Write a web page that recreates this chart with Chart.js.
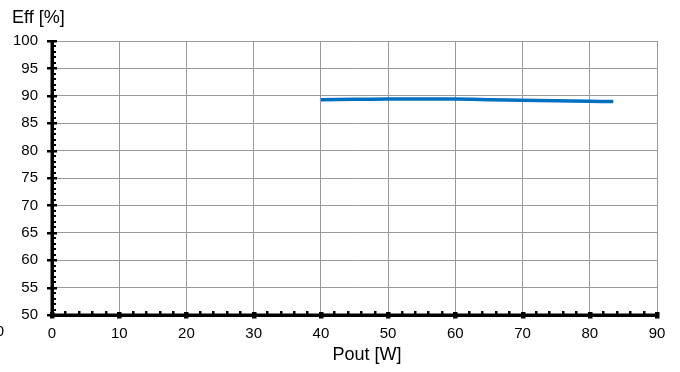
<!DOCTYPE html>
<html>
<head>
<meta charset="utf-8">
<script src="https://cdn.jsdelivr.net/npm/chart.js@4"></script>
<style>
  html, body { margin: 0; padding: 0; background: #fff; }
  #wrap { width: 680px; height: 372px; }
</style>
</head>
<body>
<div id="wrap"><canvas id="effChart" width="680" height="372"></canvas></div>
<script>
const pout = [40, 45, 50, 55, 60, 65, 70, 75, 80, 83.5];
const eff = [89.3, 89.35, 89.4, 89.4, 89.4, 89.3, 89.2, 89.1, 89.0, 88.95];

const xTicks = [0, 10, 20, 30, 40, 50, 60, 70, 80, 90];
const yTicks = [50, 55, 60, 65, 70, 75, 80, 85, 90, 95, 100];

const FONT = "'Liberation Sans', Arial, sans-serif";

// thick black axes with minor tick marks, plus the text labels
const axesPlugin = {
    id: 'axesPlugin',
    afterDraw(chart) {
        const ctx = chart.ctx;
        const xs = chart.scales.x;
        const ys = chart.scales.y;
        const x0 = xs.getPixelForValue(0);
        const y0 = ys.getPixelForValue(50);
        ctx.save();
        ctx.fillStyle = '#000';

        // y axis
        ctx.fillRect(x0 - 1.5, ys.top - 1, 3.5, ys.bottom - ys.top + 2);
        for (let v = 50; v <= 100; v++) {
            const py = Math.round(ys.getPixelForValue(v));
            if (v % 5 === 0) {
                ctx.fillRect(x0 - 5, py - 1, 10, 2.5);
            } else {
                ctx.fillRect(x0 + 1, py - 1, 3, 2);
            }
        }

        // x axis
        ctx.fillRect(x0 - 1, y0 - 1.5, xs.right - x0 + 2, 3.5);
        for (let v = 0; v <= 90; v += 2) {
            const px = Math.round(xs.getPixelForValue(v));
            if (v % 10 === 0) {
                ctx.fillRect(px - 2, y0 - 3, 4.5, 6.5);
            } else {
                ctx.fillRect(px - 1, y0 - 4, 2.5, 3);
            }
        }

        ctx.font = '18px ' + FONT;
        ctx.textBaseline = 'middle';
        ctx.textAlign = 'left';
        ctx.fillText('Eff [%]', 12, 18);
        ctx.textAlign = 'center';
        ctx.fillText('Pout [W]', 367, 355);
        ctx.font = '15px ' + FONT;
        ctx.fillText('0', 0, 332);
        ctx.restore();
    }
};

new Chart(document.getElementById('effChart').getContext('2d'), {
    type: 'scatter',
    data: {
        datasets: [{
            label: 'Eff',
            data: pout.map((p, i) => ({ x: p, y: eff[i] })),
            showLine: true,
            borderColor: '#0070C0',
            backgroundColor: '#0070C0',
            borderWidth: 3.5,
            pointRadius: 0,
            tension: 0.3
        }]
    },
    options: {
        responsive: false,
        animation: false,
        layout: { padding: { left: 0, right: 23, top: 41, bottom: 0 } },
        plugins: { legend: { display: false }, tooltip: { enabled: false } },
        scales: {
            x: {
                type: 'linear',
                min: 0,
                max: 90,
                afterBuildTicks: s => { s.ticks = xTicks.map(v => ({ value: v })); },
                afterFit: s => { s.height = 57; },
                border: { display: false },
                grid: { color: '#999', lineWidth: 1, drawTicks: false },
                ticks: { color: '#000', padding: 10, font: { family: FONT, size: 15 } }
            },
            y: {
                min: 50,
                max: 100,
                afterBuildTicks: s => { s.ticks = yTicks.map(v => ({ value: v })); },
                afterFit: s => { s.width = 52; },
                border: { display: false },
                grid: { color: '#999', lineWidth: 1, drawTicks: false },
                ticks: { color: '#000', padding: 14, font: { family: FONT, size: 15 } }
            }
        }
    },
    plugins: [axesPlugin]
});
</script>
</body>
</html>
